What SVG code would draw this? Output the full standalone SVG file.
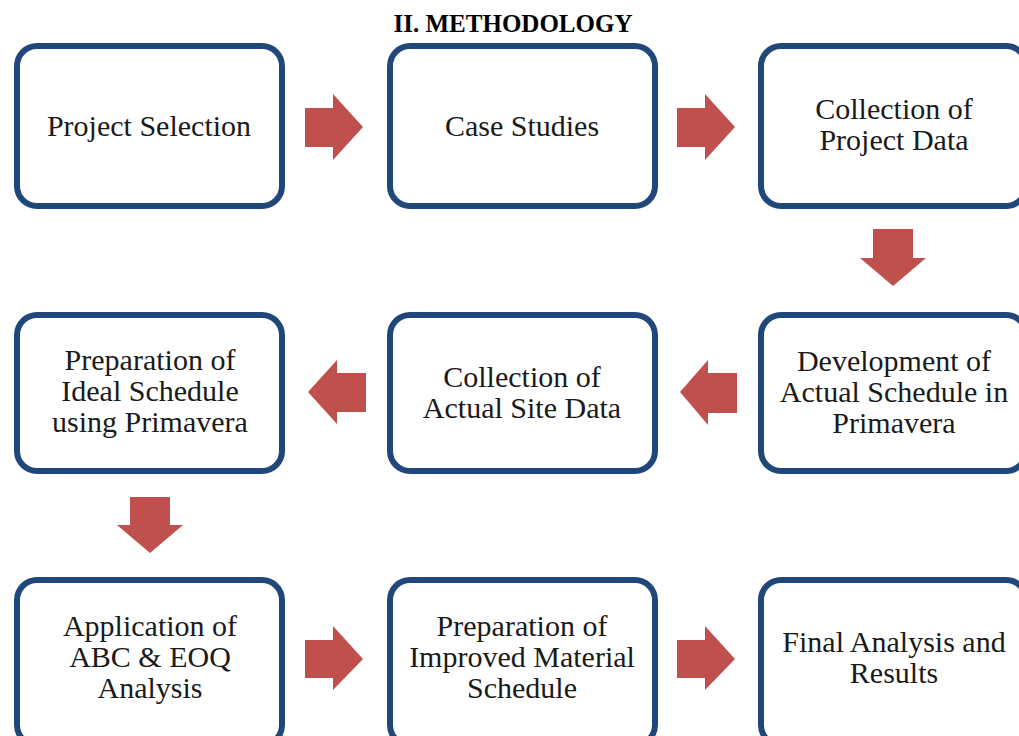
<svg xmlns="http://www.w3.org/2000/svg" width="1019" height="736" viewBox="0 0 1019 736">
<style>
.box{fill:#ffffff;stroke:#1F477A;stroke-width:6;}
.t{font-family:"Liberation Serif","Times New Roman",serif;font-size:30px;fill:#1a1a1a;text-anchor:middle;}
.title{font-family:"Liberation Serif","Times New Roman",serif;font-size:25px;font-weight:bold;fill:#000;text-anchor:middle;}
.arr{fill:#C0504D;}
</style>
<rect width="1019" height="736" fill="#ffffff"/>
<text class="title" x="513" y="32">II. METHODOLOGY</text>
<g id="n1"><rect class="box" x="17" y="46" width="265" height="160" rx="20"/><text class="t" x="149" y="136">Project Selection</text></g>
<g id="n2"><rect class="box" x="390" y="46" width="265" height="160" rx="20"/><text class="t" x="522" y="136">Case Studies</text></g>
<g id="n3"><rect class="box" x="761" y="46" width="265" height="160" rx="20"/><text class="t" x="894"><tspan x="894" y="119">Collection of</tspan><tspan x="894" y="150">Project Data</tspan></text></g>
<g id="n4"><rect class="box" x="761" y="315" width="265" height="156" rx="20"/><text class="t" x="894"><tspan x="894" y="371">Development of</tspan><tspan x="894" y="402">Actual Schedule in</tspan><tspan x="894" y="433">Primavera</tspan></text></g>
<g id="n5"><rect class="box" x="390" y="315" width="265" height="156" rx="20"/><text class="t" x="522"><tspan x="522" y="387">Collection of</tspan><tspan x="522" y="418">Actual Site Data</tspan></text></g>
<g id="n6"><rect class="box" x="17" y="315" width="265" height="156" rx="20"/><text class="t" x="150"><tspan x="150" y="370">Preparation of</tspan><tspan x="150" y="401">Ideal Schedule</tspan><tspan x="150" y="432">using Primavera</tspan></text></g>
<g id="n7"><rect class="box" x="17" y="580" width="265" height="165" rx="20"/><text class="t" x="150"><tspan x="150" y="636">Application of</tspan><tspan x="150" y="667">ABC &amp; EOQ</tspan><tspan x="150" y="698">Analysis</tspan></text></g>
<g id="n8"><rect class="box" x="390" y="580" width="265" height="165" rx="20"/><text class="t" x="522"><tspan x="522" y="636">Preparation of</tspan><tspan x="522" y="667">Improved Material</tspan><tspan x="522" y="698">Schedule</tspan></text></g>
<g id="n9"><rect class="box" x="761" y="580" width="265" height="165" rx="20"/><text class="t" x="894"><tspan x="894" y="652">Final Analysis and</tspan><tspan x="894" y="683">Results</tspan></text></g>
<g id="connectors">
<polygon class="arr" points="305,108 333,108 333,94 363,127 333,160 333,147 305,147"/>
<polygon class="arr" points="677,108 705,108 705,94 735,127 705,160 705,147 677,147"/>
<polygon class="arr" points="873,229 913,229 913,258 926,258 893,286 860,258 873,258"/>
<polygon class="arr" points="737,373 708,373 708,360 680,392 708,425 708,413 737,413"/>
<polygon class="arr" points="366,373 337,373 337,360 308,392 337,424 337,412 366,412"/>
<polygon class="arr" points="130,497 170,497 170,525 183,525 150,553 117,525 130,525"/>
<polygon class="arr" points="305,640 333,640 333,626 363,659 333,690 333,678 305,678"/>
<polygon class="arr" points="677,640 705,640 705,626 735,659 705,690 705,678 677,678"/>
</g>
</svg>
